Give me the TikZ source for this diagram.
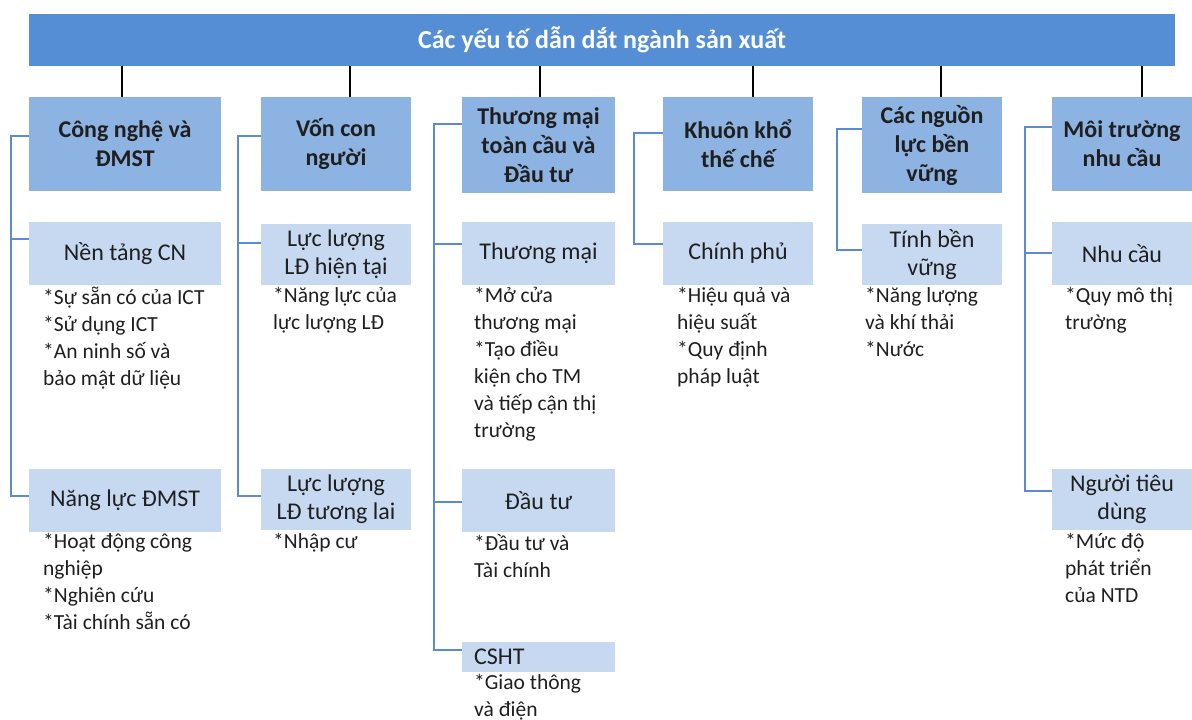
\documentclass[tikz,border=0pt]{standalone}
\usepackage{fontspec}
\setmainfont{Carlito}
\definecolor{titleblue}{HTML}{558ED5}
\definecolor{lvlone}{HTML}{8DB3E2}
\definecolor{lvltwo}{HTML}{C6D9F1}
\definecolor{linkblue}{HTML}{5B8BD0}
\definecolor{txt}{HTML}{1F1F1F}
\begin{document}
\begin{tikzpicture}[x=1pt,y=-1pt,
 titlebox/.style={fill=titleblue, text=white, font=\fontsize{26}{30}\selectfont\bfseries, inner sep=0},
 onebox/.style={fill=lvlone, text=txt, font=\fontsize{24}{29}\selectfont\bfseries, align=center, inner sep=0},
 twobox/.style={fill=lvltwo, text=txt, font=\fontsize{24}{28}\selectfont, align=center, inner sep=0},
 bullets/.style={text=txt, font=\fontsize{21.5}{27}\selectfont, align=left, anchor=north west, inner sep=0},
 trunk/.style={draw=black, line width=1.3pt},
 branch/.style={draw=linkblue, line width=1.5pt},
]
\useasboundingbox (0,0) rectangle (1192,720);

% title
\node[titlebox, minimum width=1146pt, minimum height=52pt] (title) at (602,40) {Các yếu tố dẫn dắt ngành sản xuất};

% level one
\node[onebox, minimum width=192pt, minimum height=94pt] (c1) at (125,144) {Công nghệ và\\ĐMST};
\node[onebox, minimum width=150pt, minimum height=94pt] (c2) at (336,144) {Vốn con\\người};
\node[onebox, minimum width=153pt, minimum height=96pt] (t0) at (538.5,145) {Thương mại\\toàn cầu và\\Đầu tư};
\node[onebox, minimum width=150pt, minimum height=94pt] (k0) at (738,144) {Khuôn khổ\\thế chế};
\node[onebox, minimum width=140pt, minimum height=96pt] (s0) at (932,145) {Các nguồn\\lực bền\\vững};
\node[onebox, minimum width=140pt, minimum height=94pt] (d0) at (1122,144) {Môi trường\\nhu cầu};

% level two
\node[twobox, minimum width=192pt, minimum height=63pt] (n1) at (125,253.5) {Nền tảng CN};
\node[twobox, minimum width=192pt, minimum height=63pt] (n2) at (125,500.5) {Năng lực ĐMST};
\node[twobox, minimum width=150pt, minimum height=61pt] (m1) at (336,254.5) {Lực lượng\\LĐ hiện tại};
\node[twobox, minimum width=150pt, minimum height=61pt] (m2) at (336,499.5) {Lực lượng\\LĐ tương lai};
\node[twobox, minimum width=153pt, minimum height=63pt] (t1) at (538.5,253.5) {Thương mại};
\node[twobox, minimum width=153pt, minimum height=63pt] (t2) at (538.5,500.5) {Đầu tư};
\node[twobox, minimum width=153pt, minimum height=30pt, text width=129pt, align=left, inner xsep=12pt, inner ysep=0pt] (t3) at (538.5,657) {CSHT};
\node[twobox, minimum width=150pt, minimum height=63pt] (k1) at (738,253.5) {Chính phủ};
\node[twobox, minimum width=140pt, minimum height=61pt] (s1) at (932,254.5) {Tính bền\\vững};
\node[twobox, minimum width=140pt, minimum height=63pt] (d1) at (1122,253.5) {Nhu cầu};
\node[twobox, minimum width=140pt, minimum height=61pt] (d2) at (1122,499.5) {Người tiêu\\dùng};

% bullets
\node[bullets] (b1) at (43,287) {*Sự sẵn có của ICT\\*Sử dụng ICT\\*An ninh số và\\bảo mật dữ liệu};
\node[bullets] (b2) at (43,533) {*Hoạt động công\\nghiệp\\*Nghiên cứu\\*Tài chính sẵn có};
\node[bullets] (b3) at (273,287) {*Năng lực của\\lực lượng LĐ};
\node[bullets] (b4) at (273,533) {*Nhập cư};
\node[bullets] (b5) at (474,287) {*Mở cửa\\thương mại\\*Tạo điều\\kiện cho TM\\và tiếp cận thị\\trường};
\node[bullets] (b6) at (474,534) {*Đầu tư và\\Tài chính};
\node[bullets] (b7) at (474,674) {*Giao thông\\và điện};
\node[bullets] (b8) at (677,287) {*Hiệu quả và\\hiệu suất\\*Quy định\\pháp luật};
\node[bullets] (b9) at (865,287) {*Năng lượng\\và khí thải\\*Nước};
\node[bullets] (b10) at (1065,287) {*Quy mô thị\\trường};
\node[bullets] (b11) at (1065,533) {*Mức độ\\phát triển\\của NTD};

% trunk connectors
\draw[trunk] ([xshift=-3pt]c1.north |- title.south) -- ([xshift=-3pt]c1.north);
\draw[trunk] ([xshift=14pt]c2.north |- title.south) -- ([xshift=14pt]c2.north);
\draw[trunk] ([xshift=1.5pt]t0.north |- title.south) -- ([xshift=1.5pt]t0.north);
\draw[trunk] ([xshift=15pt]k0.north |- title.south) -- ([xshift=15pt]k0.north);
\draw[trunk] ([xshift=9pt]s0.north |- title.south) -- ([xshift=9pt]s0.north);
\draw[trunk] ([xshift=20pt]d0.north |- title.south) -- ([xshift=20pt]d0.north);

% branch brackets
\draw[branch] ([yshift=8pt]c1.west) -- ++(-18,0) |- ([yshift=4.5pt]n2.west);
\draw[branch] ([yshift=14.5pt]n1.west) -- ++(-18,0);

\draw[branch] ([yshift=8pt]c2.west) -- ++(-23,0) |- ([yshift=3.5pt]m2.west);
\draw[branch] ([yshift=11.5pt]m1.west) -- ++(-23,0);

\draw[branch] ([yshift=21pt]t0.west) -- ++(-28,0) |- ([yshift=7pt]t3.west);
\draw[branch] ([yshift=9.5pt]t1.west) -- ++(-28,0);
\draw[branch] ([yshift=-1.5pt]t2.west) -- ++(-28,0);

\draw[branch] ([yshift=11pt]k0.west) -- ++(-29,0) |- ([yshift=9.5pt]k1.west);

\draw[branch] ([yshift=16pt]s0.west) -- ++(-25,0) |- ([yshift=4.5pt]s1.west);

\draw[branch] ([yshift=17pt]d0.west) -- ++(-27,0) |- ([yshift=8.5pt]d2.west);
\draw[branch] ([yshift=0.5pt]d1.west) -- ++(-27,0);
\end{tikzpicture}
\end{document}
